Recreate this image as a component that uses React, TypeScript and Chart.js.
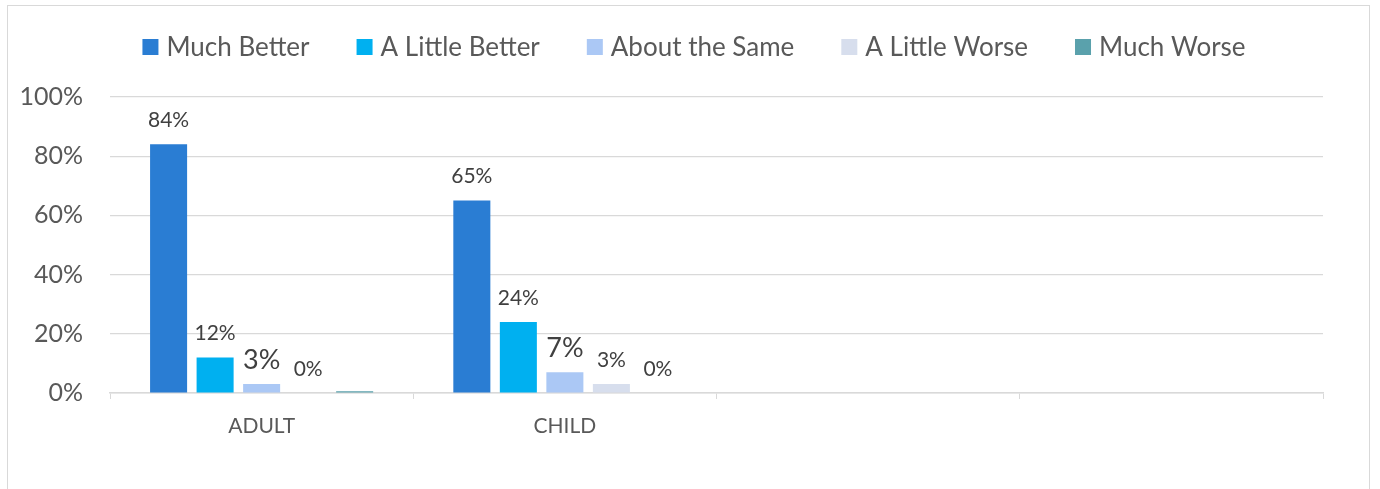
import React, { useEffect, useRef } from "react";
import { Chart, registerables } from "chart.js";

Chart.register(...registerables);

const categories = ["ADULT", "CHILD", "", ""];
const seriesNames = ["Much Better", "A Little Better", "About the Same", "A Little Worse", "Much Worse"];

const muchBetter = [84, 65, null, null];
const littleBetter = [12, 24, null, null];
const aboutSame = [3, 7, null, null];
const littleWorse = [0, 3, null, null];
const muchWorse = [0.6, 0, null, null];

const muchBetterLabels = ["84%", "65%", "", ""];
const littleBetterLabels = ["12%", "24%", "", ""];
const aboutSameLabels = ["3%", "7%", "", ""];
const littleWorseLabels = ["0%", "3%", "", ""];
const muchWorseLabels = ["", "0%", "", ""];

const yTicks = [0, 20, 40, 60, 80, 100];

const colors = ["#2A7DD3", "#00B0F0", "#ABC8F5", "#D7DEED", "#5AA1AC"];
const labelSizes = [21, 21, 27, 21, 21];
const TEXT = "#595959";
const LABEL_TEXT = "#404040";
const FONT = "Lato";

const seriesValues = [muchBetter, littleBetter, aboutSame, littleWorse, muchWorse];
const seriesLabels = [muchBetterLabels, littleBetterLabels, aboutSameLabels, littleWorseLabels, muchWorseLabels];

const legendPlugin = {
  id: "customLegend",
  afterDraw(chart: any) {
    const ctx = chart.ctx;
    ctx.save();
    ctx.font = `26px ${FONT}`;
    const box = 16;
    const gap = 8;
    const itemGap = 47;
    const items = chart.data.datasets.map((d: any) => ({
      label: d.label,
      color: d.backgroundColor,
      w: box + gap + ctx.measureText(d.label).width,
    }));
    const total = items.reduce((s: number, it: any) => s + it.w, 0) + itemGap * (items.length - 1);
    let x = 694 - total / 2;
    const cy = 47;
    ctx.textBaseline = "middle";
    ctx.textAlign = "left";
    for (const it of items) {
      ctx.fillStyle = it.color;
      ctx.fillRect(x, cy - box / 2, box, box);
      ctx.fillStyle = TEXT;
      ctx.fillText(it.label, x + box + gap, cy + 1);
      x += it.w + itemGap;
    }
    ctx.restore();
  },
};

const dataLabelPlugin = {
  id: "barLabels",
  afterDatasetsDraw(chart: any) {
    const ctx = chart.ctx;
    ctx.save();
    ctx.textAlign = "center";
    ctx.textBaseline = "middle";
    ctx.fillStyle = LABEL_TEXT;
    chart.data.datasets.forEach((ds: any, di: number) => {
      const meta = chart.getDatasetMeta(di);
      const labels = seriesLabels[di];
      meta.data.forEach((el: any, i: number) => {
        const t = labels[i];
        if (!t) return;
        ctx.font = `${labelSizes[di]}px ${FONT}`;
        ctx.fillText(t, el.x, el.y - 24);
      });
    });
    ctx.restore();
  },
};

export default function App() {
  const ref = useRef<HTMLCanvasElement | null>(null);

  useEffect(() => {
    document.body.style.margin = "0";
    const canvas = ref.current;
    if (!canvas) return;
    const chart = new Chart(canvas, {
      type: "bar",
      data: {
        labels: categories,
        datasets: seriesNames.map((name, i) => ({
          label: name,
          data: seriesValues[i],
          backgroundColor: colors[i],
          borderWidth: 0,
          categoryPercentage: 0.767,
          barPercentage: 0.796,
        })),
      },
      options: {
        animation: false,
        responsive: false,
        maintainAspectRatio: false,
        layout: { padding: { top: 97, right: 57, left: 0, bottom: 0 } },
        plugins: {
          legend: { display: false },
          title: { display: false },
          tooltip: { enabled: false },
        },
        scales: {
          x: {
            afterFit(scale: any) {
              scale.height = 96;
            },
            grid: {
              offset: true,
              drawOnChartArea: false,
              drawTicks: true,
              tickLength: 6,
              color: "#D9D9D9",
              lineWidth: 1,
            },
            border: { color: "#D9D9D9", width: 1.5 },
            ticks: {
              color: TEXT,
              font: { family: FONT, size: 21 },
              padding: 15,
            },
          },
          y: {
            min: 0,
            max: 100,
            afterFit(scale: any) {
              scale.width = 110;
            },
            afterBuildTicks(scale: any) {
              scale.ticks = yTicks.map((v) => ({ value: v }));
            },
            grid: { color: "#D9D9D9", lineWidth: 1.2, drawTicks: false },
            border: { display: false },
            ticks: {
              color: TEXT,
              font: { family: FONT, size: 25 },
              padding: 27,
              callback: (v: any) => `${v}%`,
            },
          },
        },
      },
      plugins: [legendPlugin, dataLabelPlugin],
    });
    return () => chart.destroy();
  }, []);

  return (
    <div style={{ position: "fixed", left: 0, top: 0, width: 1380, height: 489, background: "#fff", overflow: "hidden" }}>
      <div
        style={{
          position: "absolute",
          left: 7,
          top: 5,
          width: 1363,
          height: 520,
          border: "1px solid #D9D9D9",
          boxSizing: "border-box",
        }}
      />
      <canvas ref={ref} width={1380} height={489} style={{ position: "absolute", left: 0, top: 0 }} />
    </div>
  );
}
